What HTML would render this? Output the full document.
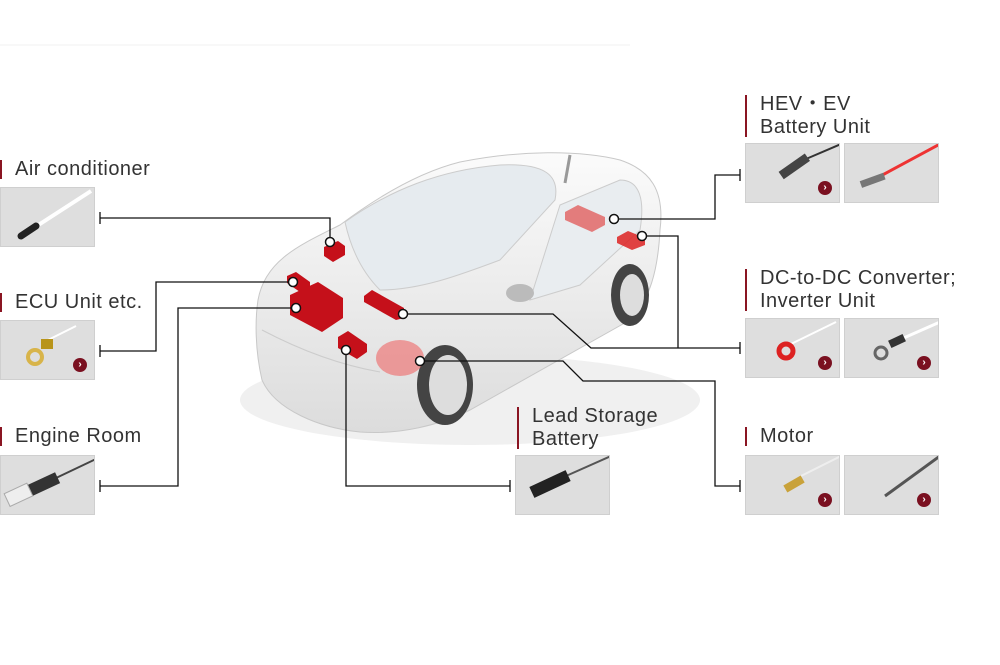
<!DOCTYPE html>
<html><head><meta charset="utf-8"><style>
body{margin:0;background:#fff;width:1000px;height:665px;overflow:hidden;font-family:"Liberation Sans",sans-serif;}
.lbl{position:absolute;font-size:20px;letter-spacing:0.5px;color:#333;line-height:23px;padding-left:15px;}
.lbl:before{content:"";position:absolute;left:0;top:2px;bottom:2px;width:2px;background:#8a1522;}
.box{position:absolute;width:95px;height:60px;background:#dedede;border:1px solid #cfcfcf;box-sizing:border-box;overflow:hidden;}
.btn{position:absolute;right:7px;bottom:7px;width:14px;height:14px;border-radius:50%;background:#7a1020;color:#fff;font-size:10px;line-height:14px;text-align:center;font-weight:bold;}
svg{position:absolute;left:0;top:0;}
</style></head><body>
<svg width="1000" height="665">
<defs><linearGradient id="g" x1="0" y1="0" x2="0" y2="1"><stop offset="0" stop-color="#fbfbfb"/><stop offset="1" stop-color="#dcdcdc"/></linearGradient></defs>
<line x1="0" y1="45" x2="630" y2="45" stroke="#f2f2f2"/>
<ellipse cx="470" cy="400" rx="230" ry="45" fill="#f0f0f0"/>
<path d="M258,300 C265,260 300,245 340,225 C380,195 420,172 460,162 C520,150 580,150 620,160 C650,170 665,190 660,230 C658,270 650,300 630,320 L470,410 C440,425 400,435 360,432 C320,428 275,410 262,380 C255,350 255,320 258,300 Z" fill="url(#g)" stroke="#c8c8c8"/>
<path d="M345,222 C390,190 440,170 500,165 C545,163 560,175 555,200 L500,260 C460,275 420,290 380,290 C360,270 350,245 345,222 Z" fill="#e6ebef" stroke="#ccc"/>
<path d="M560,205 L620,180 C640,180 645,200 640,230 L580,285 L530,300 Z" fill="#e9edf0" stroke="#ccc"/>
<path d="M262,330 C300,350 340,365 380,372" fill="none" stroke="#ccc"/>
<ellipse cx="445" cy="385" rx="28" ry="40" fill="#444"/><ellipse cx="448" cy="385" rx="19" ry="30" fill="#ddd"/>
<ellipse cx="630" cy="295" rx="19" ry="31" fill="#444"/><ellipse cx="632" cy="295" rx="12" ry="21" fill="#ddd"/>
<ellipse cx="520" cy="293" rx="14" ry="9" fill="#bbb"/>
<line x1="565" y1="183" x2="570" y2="155" stroke="#999" stroke-width="3"/>
<polygon points="324,247 338,241 345,246 345,255 333,262 324,256" fill="#c5101a"/>
<polygon points="287,276 296,272 310,282 310,288 300,292 287,283" fill="#c5101a"/>
<polygon points="290,295 318,282 343,298 343,318 322,332 290,315" fill="#c5101a"/>
<polygon points="364,296 372,290 404,308 404,318 396,320 364,302" fill="#c5101a"/>
<polygon points="338,337 348,331 367,344 367,352 357,359 338,348" fill="#c5101a"/>
<ellipse cx="400" cy="358" rx="24" ry="18" fill="#e66" opacity="0.6"/>
<polygon points="565,212 578,205 605,217 605,225 592,232 565,220" fill="#e05555" opacity="0.75"/>
<polygon points="617,237 628,231 645,238 645,245 632,250 617,243" fill="#d22" opacity="0.85"/>
<g fill="none" stroke="#111" stroke-width="1.3">
<path d="M100,218 H330 V242"/><path d="M100,212 V224"/>
<path d="M100,351 H156 V282 H293"/><path d="M100,345 V357"/>
<path d="M100,486 H178 V308 H296"/><path d="M100,480 V492"/>
<path d="M346,350 V486 H510"/><path d="M510,480 V492"/>
<path d="M403,314 H553 L591,348 H740"/><path d="M642,236 H678 V348"/><path d="M740,342 V354"/>
<path d="M614,219 H715 V175 H740"/><path d="M740,169 V181"/>
<path d="M420,361 H563 L583,381 H715 V486 H740"/><path d="M740,480 V492"/>
</g>
<g fill="#fff" stroke="#111" stroke-width="1.5">
<circle cx="330" cy="242" r="4.5"/><circle cx="293" cy="282" r="4.5"/><circle cx="296" cy="308" r="4.5"/>
<circle cx="346" cy="350" r="4.5"/><circle cx="403" cy="314" r="4.5"/><circle cx="642" cy="236" r="4.5"/>
<circle cx="614" cy="219" r="4.5"/><circle cx="420" cy="361" r="4.5"/>
</g>
</svg>
<div class="lbl" style="left:0;top:158px">Air conditioner</div>
<div class="lbl" style="left:0;top:291px">ECU Unit etc.</div>
<div class="lbl" style="left:0;top:425px">Engine Room</div>
<div class="lbl" style="left:517px;top:405px">Lead Storage<br>Battery</div>
<div class="lbl" style="left:745px;top:93px">HEV・EV<br>Battery Unit</div>
<div class="lbl" style="left:745px;top:267px">DC-to-DC Converter;<br>Inverter Unit</div>
<div class="lbl" style="left:745px;top:425px">Motor</div>
<div class="box" style="left:0;top:187px"><svg width="95" height="60"><line x1="25" y1="45" x2="90" y2="3" stroke="#fff" stroke-width="4"/><line x1="20" y1="48" x2="35" y2="38" stroke="#222" stroke-width="7" stroke-linecap="round"/></svg></div>
<div class="box" style="left:0;top:320px"><svg width="95" height="60"><line x1="45" y1="20" x2="75" y2="5" stroke="#fff" stroke-width="2"/><rect x="40" y="18" width="12" height="10" fill="#b8941a"/><circle cx="34" cy="36" r="7" fill="none" stroke="#d8b44a" stroke-width="4"/></svg><div class="btn">›</div></div>
<div class="box" style="left:0;top:455px"><svg width="95" height="60"><line x1="55" y1="22" x2="95" y2="3" stroke="#444" stroke-width="2"/><rect x="28" y="22" width="30" height="12" transform="rotate(-25 43 28)" fill="#333"/><rect x="5" y="32" width="25" height="14" transform="rotate(-25 17 39)" fill="#eee" stroke="#aaa"/></svg></div>
<div class="box" style="left:515px;top:455px"><svg width="95" height="60"><line x1="50" y1="20" x2="95" y2="0" stroke="#555" stroke-width="2"/><rect x="14" y="22" width="40" height="12" transform="rotate(-25 34 28)" fill="#222"/></svg></div>
<div class="box" style="left:745px;top:143px"><svg width="95" height="60"><line x1="60" y1="15" x2="95" y2="0" stroke="#333" stroke-width="2"/><rect x="32" y="18" width="32" height="9" transform="rotate(-35 48 22)" fill="#444"/></svg><div class="btn">›</div></div>
<div class="box" style="left:844px;top:143px"><svg width="95" height="60"><line x1="30" y1="35" x2="95" y2="0" stroke="#e33" stroke-width="3"/><rect x="15" y="33" width="25" height="7" transform="rotate(-20 27 36)" fill="#777"/></svg></div>
<div class="box" style="left:745px;top:318px"><svg width="95" height="60"><line x1="45" y1="25" x2="90" y2="3" stroke="#fff" stroke-width="2"/><circle cx="40" cy="32" r="7" fill="none" stroke="#d22" stroke-width="5"/></svg><div class="btn">›</div></div>
<div class="box" style="left:844px;top:318px"><svg width="95" height="60"><line x1="45" y1="25" x2="95" y2="3" stroke="#fff" stroke-width="3"/><rect x="44" y="18" width="16" height="8" transform="rotate(-25 52 22)" fill="#333"/><circle cx="36" cy="34" r="6" fill="none" stroke="#666" stroke-width="3"/></svg><div class="btn">›</div></div>
<div class="box" style="left:745px;top:455px"><svg width="95" height="60"><line x1="55" y1="20" x2="95" y2="0" stroke="#eee" stroke-width="2"/><rect x="38" y="24" width="20" height="8" transform="rotate(-30 48 28)" fill="#c9a23a"/></svg><div class="btn">›</div></div>
<div class="box" style="left:844px;top:455px"><svg width="95" height="60"><line x1="40" y1="40" x2="95" y2="0" stroke="#555" stroke-width="3"/></svg><div class="btn">›</div></div>
</body></html>
